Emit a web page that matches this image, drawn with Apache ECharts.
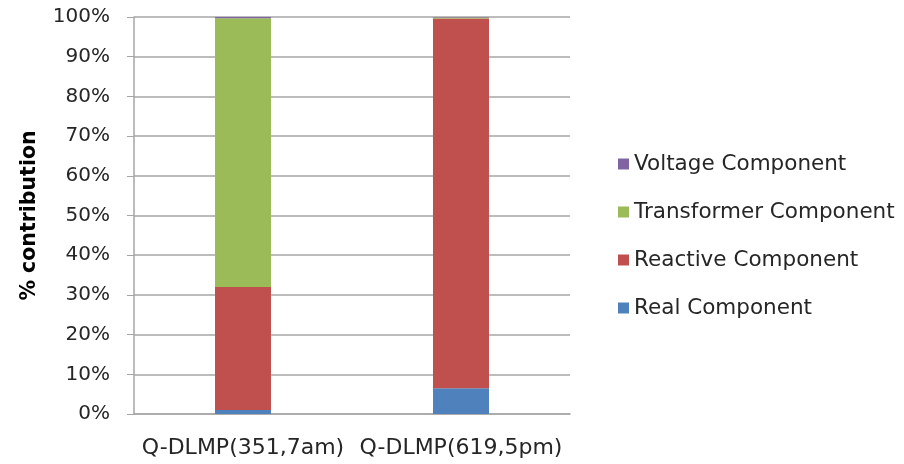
<!DOCTYPE html>
<html>
<head>
<meta charset="utf-8">
<script src="https://cdn.jsdelivr.net/npm/echarts@6/dist/echarts.min.js"></script>
<style>
  html, body { margin: 0; padding: 0; background: #fff; }
  #main { width: 904px; height: 464px; }
</style>
</head>
<body>
<div id="main"></div>
<script>
var chartDom = document.getElementById('main');
var myChart = echarts.init(chartDom);

// categories on the x axis
const categories = ['Q-DLMP(351,7am)', 'Q-DLMP(619,5pm)'];

// % contribution of each component (stacked)
const realValues = [1.0, 6.5];
const reactiveValues = [31.0, 93.1];
const transformerValues = [67.7, 0.3];
const voltageValues = [0.3, 0.1];

const seriesColors = {
    'Real Component': '#4F81BD',
    'Reactive Component': '#C0504D',
    'Transformer Component': '#9BBB59',
    'Voltage Component': '#8064A2'
};

const textFont = '"DejaVu Sans", sans-serif';

function makeSeries(name, values) {
    return {
        name: name,
        type: 'bar',
        stack: 'total',
        barWidth: 56,
        data: values,
        itemStyle: { color: seriesColors[name] }
    };
}

var option = {
    animation: false,
    grid: {
        left: 134,
        right: 334,
        top: 17,
        bottom: 50
    },
    legend: {
        orient: 'vertical',
        left: 613,
        top: 148,
        itemWidth: 11,
        itemHeight: 11,
        itemGap: 26,
        icon: 'rect',
        data: ['Voltage Component', 'Transformer Component', 'Reactive Component', 'Real Component'],
        textStyle: {
            fontFamily: textFont,
            fontSize: 21.5,
            lineHeight: 21,
            color: '#262626'
        }
    },
    xAxis: {
        type: 'category',
        data: categories,
        axisLine: { lineStyle: { color: '#a6a6a6', width: 1.5 } },
        axisTick: { show: false },
        axisLabel: {
            interval: 0,
            fontFamily: textFont,
            fontSize: 22,
            color: '#262626',
            margin: 23
        }
    },
    yAxis: {
        type: 'value',
        min: 0,
        max: 100,
        interval: 10,
        name: '% contribution',
        nameLocation: 'middle',
        nameGap: 94,
        nameTextStyle: {
            fontFamily: textFont,
            fontSize: 20.5,
            fontWeight: 'bold',
            color: '#000'
        },
        axisLine: { show: true, lineStyle: { color: '#a6a6a6', width: 1.5 } },
        axisTick: { show: true, length: 7, lineStyle: { color: '#a6a6a6' } },
        axisLabel: {
            fontFamily: textFont,
            fontSize: 20,
            color: '#262626',
            margin: 24,
            formatter: function (v) { return v + '%'; }
        },
        splitLine: { lineStyle: { color: '#a6a6a6', width: 1.5 } }
    },
    series: [
        makeSeries('Real Component', realValues),
        makeSeries('Reactive Component', reactiveValues),
        makeSeries('Transformer Component', transformerValues),
        makeSeries('Voltage Component', voltageValues)
    ]
};

myChart.setOption(option);
</script>
</body>
</html>
